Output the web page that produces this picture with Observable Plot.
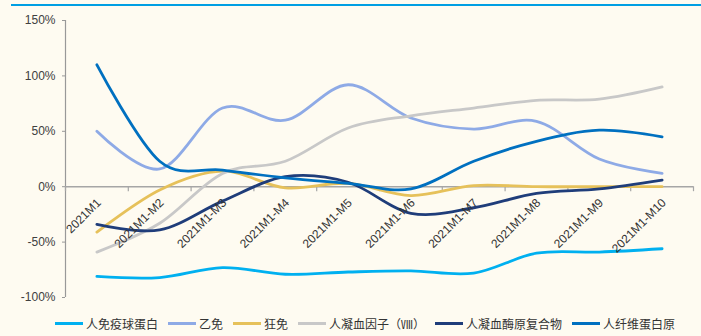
<!DOCTYPE html>
<html><head><meta charset="utf-8">
<script src="https://cdn.jsdelivr.net/npm/d3@7"></script>
<script src="https://cdn.jsdelivr.net/npm/@observablehq/plot@0.6"></script>
<style>
html,body{margin:0;padding:0;background:#fefbf1;}
#wrap{position:relative;width:701px;height:336px;background:#fefbf1;overflow:hidden;}
#topline{position:absolute;left:11px;top:4px;width:690px;height:2px;background:#009fe3;}
#chart{position:absolute;left:0;top:0;}
#legend{position:absolute;left:55px;top:315px;height:16px;display:flex;align-items:center;font-family:"Noto Sans CJK SC","Noto Sans",sans-serif;font-size:12px;color:#333;white-space:nowrap;}
.item{display:flex;align-items:center;margin-right:10px;}
.sw{width:28px;height:3px;margin-right:3px;}
</style></head>
<body><div id="wrap"><div id="chart"></div><div id="topline"></div><div id="legend"></div></div>
<script>
const categories = ["2021M1","2021M1-M2","2021M1-M3","2021M1-M4","2021M1-M5","2021M1-M6","2021M1-M7","2021M1-M8","2021M1-M9","2021M1-M10"];
const seriesNames = ["人免疫球蛋白","乙免","狂免","人凝血因子（Ⅷ）","人凝血酶原复合物","人纤维蛋白原"];
const seriesColors = ["#00b0f0","#8eaae6","#e6c15a","#c8c8c8","#1f3d7a","#0070c0"];
const immunoglobulin = [-81,-82,-73,-79,-77,-76,-78,-60,-59,-56];
const hepatitisB = [50,16,71,60,92,62,52,59,25,12];
const rabies = [-41,-3,14,-1,3,-8,1,0,0,0];
const factorVIII = [-59,-33,12,23,53,64,71,78,79,90];
const prothrombin = [-34,-39,-13,9,4,-24,-19,-6,-2,6];
const fibrinogen = [110,23,15,8,3,-2,23,41,51,45];
const yTicks = [-100,-50,0,50,100,150];

const seriesValues = [immunoglobulin, hepatitisB, rabies, factorVIII, prothrombin, fibrinogen];
const data = [];
seriesValues.forEach((vals, s) => vals.forEach((v, i) => data.push({series: seriesNames[s], i, v})));
const boundaries = d3.range(0, categories.length + 1).map(k => k - 0.5);

const plot = Plot.plot({
  width: 701, height: 312,
  marginLeft: 65, marginRight: 8, marginTop: 20, marginBottom: 15,
  style: {background: "transparent", fontFamily: "'Liberation Sans', Arial, sans-serif", fontSize: "12px", color: "#404040"},
  x: {domain: [-0.5, categories.length - 0.5], axis: null},
  y: {domain: [-100, 150]},
  color: {domain: seriesNames, range: seriesColors},
  marks: [
    Plot.axisY({ticks: yTicks, tickFormat: d => d + "%", tickSize: 3, tickPadding: 7, stroke: "#999", label: null}),
    Plot.ruleX([-0.5], {stroke: "#999", strokeWidth: 1.2}),
    Plot.ruleY([0], {stroke: "#a6a6a6", strokeWidth: 1.4}),
    Plot.ruleX(boundaries, {x: d => d, y1: 0, y2: -4.5, stroke: "#a6a6a6", strokeWidth: 1.2}),
    Plot.line(data, {x: "i", y: "v", z: "series", stroke: "series", curve: "cardinal", strokeWidth: 2.8}),
    Plot.text(categories, {x: (d, i) => i, y: 0, text: d => d, rotate: -45, textAnchor: "end", dx: 2, dy: 14, fill: "#333", fontSize: 12})
  ]
});
document.getElementById("chart").appendChild(plot);

const legend = document.getElementById("legend");
seriesNames.forEach((n, k) => {
  const it = document.createElement("div"); it.className = "item";
  const sw = document.createElement("div"); sw.className = "sw"; sw.style.background = seriesColors[k];
  const tx = document.createElement("span"); tx.textContent = n;
  it.appendChild(sw); it.appendChild(tx); legend.appendChild(it);
});
</script></body></html>
